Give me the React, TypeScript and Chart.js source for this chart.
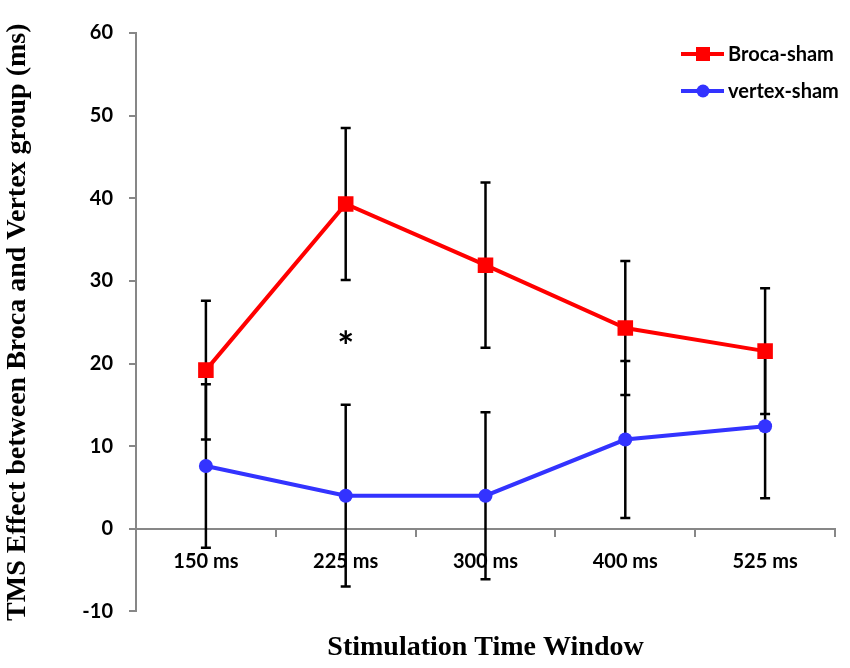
import { useEffect, useRef } from 'react';
import { Chart, registerables } from 'chart.js';

Chart.register(...registerables);

const categories = ['150 ms', '225 ms', '300 ms', '400 ms', '525 ms'];
const brocaMeans = [19.2, 39.3, 31.9, 24.3, 21.5];
const brocaErrors = [8.4, 9.2, 10.0, 8.1, 7.6];
const vertexMeans = [7.6, 4.0, 4.0, 10.8, 12.4];
const vertexErrors = [9.9, 11.0, 10.1, 9.5, 8.7];
const yTicks = [-10, 0, 10, 20, 30, 40, 50, 60];
// significance marks: category index and the height where the star sits
const starIndex = [1];
const starValue = [23];

const errorsBySeries = [brocaErrors, vertexErrors];
const AXIS_GRAY = '#878787';
const SANS = 'Lato, "Open Sans", sans-serif';
const SERIF = '"Liberation Serif", "DejaVu Serif", serif';

const errorBars = {
  id: 'errorBars',
  beforeDatasetsDraw(chart: any) {
    const { ctx } = chart;
    const x = chart.scales.x;
    const y = chart.scales.y;
    ctx.save();
    ctx.strokeStyle = '#000';
    ctx.lineWidth = 2.5;
    chart.data.datasets.forEach((ds: any, di: number) => {
      const errs = errorsBySeries[di];
      ds.data.forEach((v: number, i: number) => {
        const px = x.getPixelForValue(i);
        const top = y.getPixelForValue(v + errs[i]);
        const bot = y.getPixelForValue(v - errs[i]);
        ctx.beginPath();
        ctx.moveTo(px, top);
        ctx.lineTo(px, bot);
        ctx.moveTo(px - 5, top);
        ctx.lineTo(px + 5, top);
        ctx.moveTo(px - 5, bot);
        ctx.lineTo(px + 5, bot);
        ctx.stroke();
      });
    });
    ctx.restore();
  },
};

const stars = {
  id: 'stars',
  afterDatasetsDraw(chart: any) {
    const { ctx } = chart;
    ctx.save();
    ctx.fillStyle = '#000';
    ctx.font = `bold 40px ${SANS}`;
    ctx.textAlign = 'center';
    ctx.textBaseline = 'middle';
    starIndex.forEach((idx, k) => {
      const px = chart.scales.x.getPixelForValue(idx);
      const py = chart.scales.y.getPixelForValue(starValue[k]);
      ctx.fillText('*', px, py + 9);
    });
    ctx.restore();
  },
};

// line + marker legend in the top right of the plot
const lineLegend = {
  id: 'lineLegend',
  afterDraw(chart: any) {
    const { ctx, chartArea } = chart;
    const x0 = chartArea.right - 154;
    ctx.save();
    ctx.font = `bold 20px ${SANS}`;
    ctx.textBaseline = 'middle';
    ctx.textAlign = 'left';
    chart.data.datasets.forEach((ds: any, i: number) => {
      const yy = chartArea.top + 21 + i * 37;
      ctx.strokeStyle = ds.borderColor;
      ctx.lineWidth = 4;
      ctx.beginPath();
      ctx.moveTo(x0, yy);
      ctx.lineTo(x0 + 43, yy);
      ctx.stroke();
      ctx.fillStyle = ds.borderColor;
      if (ds.pointStyle === 'rect') {
        ctx.fillRect(x0 + 15, yy - 7, 14, 14);
      } else {
        ctx.beginPath();
        ctx.arc(x0 + 22, yy, 6.5, 0, Math.PI * 2);
        ctx.fill();
      }
      ctx.fillStyle = '#000';
      ctx.fillText(ds.label, x0 + 47, yy + 1);
    });
    ctx.restore();
  },
};

export default function App() {
  const canvasRef = useRef<HTMLCanvasElement>(null);
  const chartRef = useRef<Chart | null>(null);

  useEffect(() => {
    if (!canvasRef.current) return;
    if (chartRef.current) chartRef.current.destroy();

    const tickFont = { family: SANS, weight: 'bold' as const, size: 20 };
    const titleFont = { family: SERIF, weight: 'bold' as const, size: 28 };

    chartRef.current = new Chart(canvasRef.current, {
      type: 'line',
      data: {
        labels: categories,
        datasets: [
          {
            label: 'Broca-sham',
            data: brocaMeans,
            borderColor: '#FF0000',
            backgroundColor: '#FF0000',
            borderWidth: 4,
            pointStyle: 'rect',
            pointRadius: 11,
            pointBorderWidth: 0,
            tension: 0,
          },
          {
            label: 'vertex-sham',
            data: vertexMeans,
            borderColor: '#3333FF',
            backgroundColor: '#3333FF',
            borderWidth: 4,
            pointStyle: 'circle',
            pointRadius: 7,
            pointBorderWidth: 0,
            tension: 0,
          },
        ],
      },
      options: {
        animation: false,
        responsive: true,
        maintainAspectRatio: false,
        layout: { padding: { left: 1, right: 15, top: 33, bottom: 3 } },
        scales: {
          x: {
            type: 'category',
            position: { y: 0 },
            offset: true,
            grid: { offset: true, drawOnChartArea: false, color: AXIS_GRAY, tickLength: 7, lineWidth: 2 },
            border: { color: AXIS_GRAY, width: 2 },
            ticks: { color: '#000', font: tickFont, padding: 14 },
            afterFit: (s: any) => {
              s.height = 0;
            },
          },
          y: {
            min: -10,
            max: 60,
            afterBuildTicks: (s: any) => {
              s.ticks = yTicks.map((v) => ({ value: v }));
            },
            grid: { drawOnChartArea: false, color: AXIS_GRAY, tickLength: 7, lineWidth: 2 },
            border: { color: AXIS_GRAY, width: 2 },
            ticks: { color: '#000', font: tickFont, padding: 16 },
            title: {
              display: true,
              text: 'TMS Effect between Broca and Vertex group (ms)',
              color: '#000',
              font: titleFont,
              padding: { top: 0, bottom: 0 },
            },
            afterFit: (s: any) => {
              s.width = 135;
            },
          },
        },
        plugins: {
          legend: { display: false },
          tooltip: { enabled: false },
          title: {
            display: true,
            position: 'bottom',
            fullSize: false,
            text: 'Stimulation Time Window',
            color: '#000',
            font: titleFont,
            padding: { top: 20, bottom: 0 },
          },
        },
      },
      plugins: [errorBars, stars, lineLegend],
    } as any);

    return () => {
      if (chartRef.current) {
        chartRef.current.destroy();
        chartRef.current = null;
      }
    };
  }, []);

  return (
    <div style={{ position: 'absolute', left: 0, top: 0, width: 850, height: 668, background: '#fff' }}>
      <canvas ref={canvasRef} />
    </div>
  );
}
